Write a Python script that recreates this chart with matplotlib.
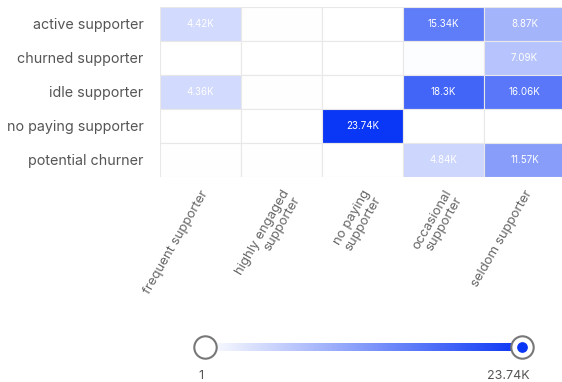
import numpy as np
import matplotlib.pyplot as plt
from matplotlib.colors import LinearSegmentedColormap

rows = ["active supporter", "churned supporter", "idle supporter",
        "no paying supporter", "potential churner"]
cols = ["frequent supporter", "highly engaged\nsupporter", "no paying\nsupporter",
        "occasional\nsupporter", "seldom supporter"]

# values per row (0 = no data)
active = [4420, 150, 0, 15340, 8870]
churned = [0, 60, 0, 350, 7090]
idle = [4360, 150, 0, 18300, 16060]
no_paying = [0, 0, 23740, 0, 0]
potential = [120, 110, 0, 4840, 11570]

vmin, vmax = 1, 23740
values = np.array([active, churned, idle, no_paying, potential], dtype=float)

cmap = LinearSegmentedColormap.from_list("blu", ["#ffffff", "#0a36f5"])


def fmt(v):
    s = f"{v / 1000:.2f}".rstrip("0").rstrip(".")
    return s + "K"


plt.rcParams["font.family"] = ["Inter", "DejaVu Sans"]
fig = plt.figure(figsize=(5.62, 3.82), dpi=100)

ax = fig.add_axes([160 / 562, 1 - 177 / 382, 405 / 562, 170 / 382])
for i in range(len(rows)):
    for j in range(len(cols)):
        v = values[i, j]
        color = cmap((v - vmin) / (vmax - vmin)) if v > 0 else "white"
        ax.add_patch(plt.Rectangle((j, i), 1, 1, facecolor=color,
                                   edgecolor="#e8e8e8", linewidth=0.8))
        if v > 0:
            ax.text(j + 0.5, i + 0.5, fmt(v), ha="center", va="center",
                    color="white", fontsize=7)
ax.set_xlim(0, len(cols))
ax.set_ylim(len(rows), 0)
ax.set_yticks(np.arange(len(rows)) + 0.5)
ax.set_yticklabels(rows, fontsize=10.3, color="#555555")
ax.set_xticks(np.arange(len(cols)) + 0.5)
ax.set_xticklabels(cols, rotation=60, ha="right", va="top",
                   rotation_mode="anchor", fontsize=9.5, color="#666666",
                   linespacing=1.0)
ax.tick_params(axis="y", length=0, pad=12)
ax.tick_params(axis="x", length=0, pad=8)
for s in ax.spines.values():
    s.set_visible(False)

# colour scale slider at the bottom
cax = fig.add_axes([205 / 562, 1 - 351 / 382, 317 / 562, 8 / 382])
cax.imshow(np.linspace(0, 1, 256)[None, :], cmap=cmap, aspect="auto",
           extent=[vmin, vmax, 0, 1])
cax.set_xlim(vmin, vmax)
cax.axis("off")

hx = fig.add_axes([0, 0, 1, 1], facecolor="none")
hx.set_xlim(0, 562)
hx.set_ylim(382, 0)
hx.axis("off")
hx.scatter([205], [347], s=260, facecolor="white", edgecolor="#777777", linewidth=1.5, zorder=3)
hx.scatter([522], [347], s=260, facecolor="white", edgecolor="#777777", linewidth=1.5, zorder=3)
hx.scatter([522], [347], s=45, color="#0a36f5", zorder=4)
hx.text(201, 376, "1", fontsize=9, color="#555555", ha="center", va="center")
hx.text(508, 376, fmt(vmax), fontsize=9, color="#555555", ha="center", va="center")

fig.savefig("out.png", dpi=100)
